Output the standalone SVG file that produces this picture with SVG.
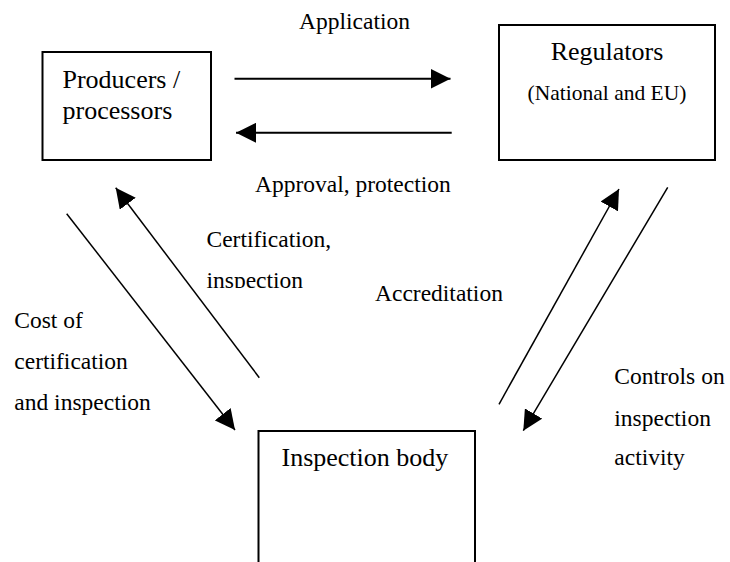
<svg xmlns="http://www.w3.org/2000/svg" width="730" height="562" viewBox="0 0 730 562">
  <defs>
    <marker id="head" markerUnits="userSpaceOnUse" markerWidth="20" markerHeight="20" refX="20" refY="10" orient="auto" viewBox="0 0 20 20">
      <path d="M0,0 L20,10 L0,20 Z" fill="#000"/>
    </marker>
  </defs>

  <rect width="730" height="562" fill="#fff"/>

  <!-- nodes -->
  <g id="producers">
    <rect x="42.5" y="52" width="168.5" height="108" fill="none" stroke="#000" stroke-width="2"/>
    <text style="font-family:'Liberation Serif',serif;font-size:26px" x="62.5" y="87.5">Producers /</text>
    <text style="font-family:'Liberation Serif',serif;font-size:26px" x="62.5" y="118.5">processors</text>
  </g>

  <g id="regulators">
    <rect x="499" y="25" width="216" height="135" fill="none" stroke="#000" stroke-width="2"/>
    <text style="font-family:'Liberation Serif',serif;font-size:26px" x="607" y="60" text-anchor="middle">Regulators</text>
    <text style="font-family:'Liberation Serif',serif;font-size:21.5px" x="607" y="99.5" text-anchor="middle">(National and EU)</text>
  </g>

  <g id="inspection-body">
    <rect x="258.5" y="431" width="216.5" height="150" fill="none" stroke="#000" stroke-width="2"/>
    <text style="font-family:'Liberation Serif',serif;font-size:26px" x="281.5" y="466">Inspection body</text>
  </g>

  <!-- connectors -->
  <g id="connectors" fill="none" stroke="#000" marker-end="url(#head)">
    <line stroke-width="2" x1="234.5" y1="78.8" x2="450.5" y2="78.8"/>
    <line stroke-width="2" x1="451.7" y1="132.8" x2="236" y2="132.8"/>
    <line stroke-width="1.5" x1="66.7" y1="213.7" x2="235" y2="430"/>
    <line stroke-width="1.5" x1="259.3" y1="377.7" x2="115.7" y2="187.7"/>
    <line stroke-width="1.5" x1="499" y1="404.3" x2="619" y2="189"/>
    <line stroke-width="1.5" x1="667.7" y1="187.3" x2="523.3" y2="430.7"/>
  </g>

  <!-- connector labels -->
  <g id="labels">
    <text style="font-family:'Liberation Serif',serif;font-size:23.5px" x="299" y="29">Application</text>
    <text style="font-family:'Liberation Serif',serif;font-size:23.5px" x="255" y="192">Approval, protection</text>
    <text style="font-family:'Liberation Serif',serif;font-size:23.5px" x="206.5" y="246.7">Certification,</text>
    <text style="font-family:'Liberation Serif',serif;font-size:23.5px" x="206.5" y="287.5">inspection</text>
    <!-- the second line of this label sits in a short text frame that cuts off its descenders -->
    <rect x="200" y="288" width="60" height="7" fill="#fff"/>
    <text style="font-family:'Liberation Serif',serif;font-size:23.5px" x="375" y="300.7">Accreditation</text>
    <text style="font-family:'Liberation Serif',serif;font-size:23.5px" x="14.3" y="327.7">Cost of</text>
    <text style="font-family:'Liberation Serif',serif;font-size:23.5px" x="14.3" y="369.3">certification</text>
    <text style="font-family:'Liberation Serif',serif;font-size:23.5px" x="14.3" y="410">and inspection</text>
    <text style="font-family:'Liberation Serif',serif;font-size:23.5px" x="614.3" y="384.3">Controls on</text>
    <text style="font-family:'Liberation Serif',serif;font-size:23.5px" x="614.3" y="425.5">inspection</text>
    <text style="font-family:'Liberation Serif',serif;font-size:23.5px" x="614.3" y="465">activity</text>
  </g>
</svg>
